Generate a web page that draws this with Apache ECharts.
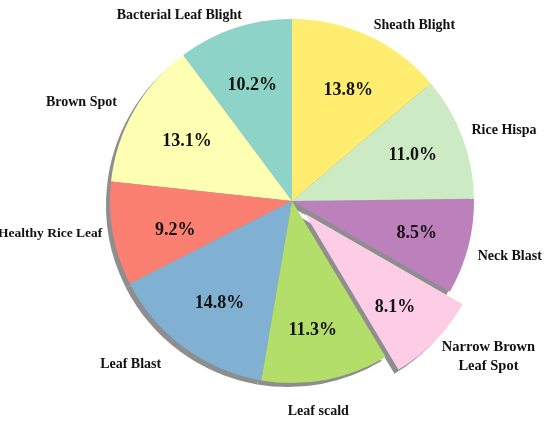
<!DOCTYPE html>
<html>
<head>
<meta charset="utf-8">
<script src="https://cdn.jsdelivr.net/npm/echarts@6/dist/echarts.min.js"></script>
<style>
  html, body { margin: 0; padding: 0; background: #fff; }
  #main { width: 550px; height: 421px; }
</style>
</head>
<body>
<div id="main"></div>
<script>
// class names and their share (%), counterclockwise from 12 o'clock
var categories = ['Bacterial Leaf Blight', 'Brown Spot', 'Healthy Rice Leaf', 'Leaf Blast',
  'Leaf scald', 'Narrow Brown\nLeaf Spot', 'Neck Blast', 'Rice Hispa', 'Sheath Blight'];
var shares = [10.2, 13.1, 9.2, 14.8, 11.3, 8.1, 8.5, 11.0, 13.8];
var colors = ['#8dd3c7', '#ffffb3', '#fb8072', '#80b1d3', '#b3de69', '#fccde5', '#bc80bd', '#ccebc5', '#ffed6f'];
var explodedIndex = 5; // Narrow Brown Leaf Spot is pulled out

var cx = 292, cy = 201, R = 182;
var explode = 18;
var labelDist = 197;
var font = 'Liberation Serif';

// where the outer names sit relative to the 1.08R anchor
var nameNudge = [[12, 1], [-4, -1], [4, -3], [-14, 5], [-10, 17], [43, 5], [-5, 6], [-5, -2], [-1, 3]];
var nameAlign = [null, null, null, null, 'center', 'center', null, null, null];
var nameSize = {2: 13.5, 5: 14.5};
// small shifts of the percentage texts
var pctNudge = {0: [1, 7], 1: [7, 4], 2: [10, 6], 3: [4, -2], 4: [-3, 3], 5: [-2, 3], 8: [2, 6]};

// mid angle of each slice (radians, counterclockwise from +x)
var total = shares.reduce(function (a, b) { return a + b; }, 0);
var midAngles = [];
(function () {
  var acc = 0;
  shares.forEach(function (v) {
    midAngles.push(Math.PI / 2 + (acc + v / 2) / total * 2 * Math.PI);
    acc += v;
  });
})();

// the pulled-out slice gets its own centre
var ex = cx + Math.cos(midAngles[explodedIndex]) * explode;
var ey = cy - Math.sin(midAngles[explodedIndex]) * explode;

var hidden = 'rgba(0,0,0,0)';
var base = {
  type: 'pie',
  startAngle: 90,
  clockwise: false,
  avoidLabelOverlap: false,
  silent: true,
  emphasis: { disabled: true },
  animation: false
};

// kind: 'shadow' | 'main' | 'pct'; part: true -> only the exploded slice
function makeSeries(kind, part) {
  var ox = part ? ex : cx, oy = part ? ey : cy;
  var data = categories.map(function (name, i) {
    var mine = (i === explodedIndex) === part;
    var item = { name: name, value: shares[i] };
    var col = kind === 'shadow' ? '#8e8e8e' : kind === 'main' ? colors[i] : hidden;
    item.itemStyle = { color: mine ? col : hidden };
    if (!mine) item.label = { show: false };
    else if (kind === 'main' && nameSize[i]) item.label = { fontSize: nameSize[i] };
    else if (kind === 'pct' && pctNudge[i]) item.label = { offset: pctNudge[i] };
    return item;
  });
  var s = Object.assign({}, base, { data: data, labelLine: { show: false } });
  if (kind === 'shadow') {
    s.z = 1;
    s.center = [ox - 4, oy + 4];
    s.radius = [0, R];
    s.label = { show: false };
  } else if (kind === 'main') {
    s.z = 2;
    s.center = [ox, oy];
    s.radius = [0, R];
    s.label = {
      show: true,
      position: 'outside',
      fontFamily: font,
      fontWeight: 'bold',
      fontSize: 14,
      color: '#111',
      lineHeight: 19
    };
    s.labelLayout = function (params) {
      var i = params.dataIndex;
      var dx = Math.cos(midAngles[i]), dy = -Math.sin(midAngles[i]);
      return {
        x: ox + dx * labelDist + nameNudge[i][0],
        y: oy + dy * labelDist + nameNudge[i][1],
        align: nameAlign[i] || (dx >= 0 ? 'left' : 'right'),
        verticalAlign: 'middle'
      };
    };
  } else {
    // transparent copy carrying the percentage labels at ~0.69 R
    s.z = 3;
    s.center = [ox, oy];
    s.radius = [0, 252];
    s.label = {
      show: true,
      position: 'inside',
      fontFamily: font,
      fontWeight: 'bold',
      fontSize: 18,
      color: '#111',
      formatter: function (p) { return p.value.toFixed(1) + '%'; }
    };
  }
  return s;
}

var chart = echarts.init(document.getElementById('main'));
chart.setOption({
  backgroundColor: '#fff',
  series: [
    makeSeries('shadow', false),
    makeSeries('shadow', true),
    makeSeries('main', false),
    makeSeries('main', true),
    makeSeries('pct', false),
    makeSeries('pct', true)
  ]
});
</script>
</body>
</html>
